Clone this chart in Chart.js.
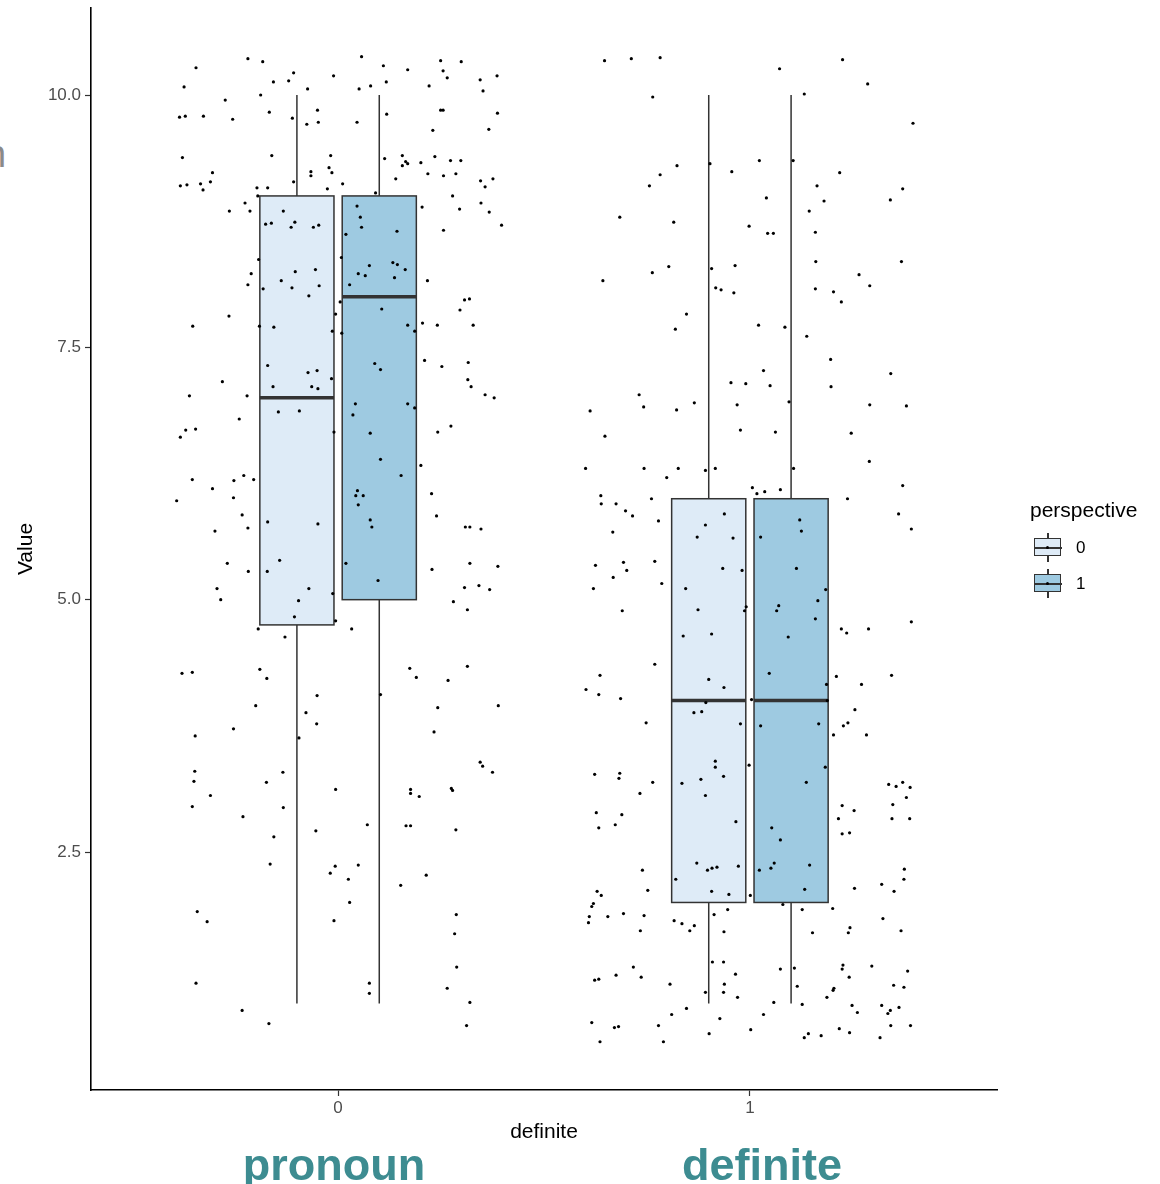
<!DOCTYPE html>
<html>
<head>
<meta charset="utf-8">
<script src="https://cdn.jsdelivr.net/npm/chart.js@4"></script>
<style>
  html, body { margin: 0; padding: 0; background: #fff; overflow: hidden; }
  body { width: 1160px; height: 1184px; position: relative; font-family: "Liberation Sans", Arial, sans-serif; }
  #plot { position: absolute; left: 0; top: 0; }
  .big { position: absolute; width: 320px; text-align: center; font-weight: bold; font-size: 45px; line-height: 45px; color: #3d8c91; }
  .legend-title { position: absolute; left: 1030px; top: 497px; font-size: 21px; line-height: 26px; color: #000; }
  .key { position: absolute; width: 28px; height: 29px; }
  .key .whisker { position: absolute; left: 13px; top: 0; width: 1.5px; height: 29px; background: #333; }
  .key .box { position: absolute; left: 0; top: 5px; width: 25px; height: 16px; border: 1.5px solid #333; }
  .key .med { position: absolute; left: 0; top: 14px; width: 28px; height: 1.5px; background: #333; }
  .key .dot { position: absolute; left: 12px; top: 13px; width: 3px; height: 3px; border-radius: 50%; background: #000; }
  .key-label { position: absolute; font-size: 17px; line-height: 20px; color: #000; }
  #frag { position: absolute; left: -15px; top: 135px; font-size: 38px; line-height: 38px; color: #8a8a8a; }
</style>
</head>
<body>
<div id="frag">n</div>
<canvas id="plot" width="1160" height="1184"></canvas>
<div class="legend-title">perspective</div>
<div id="legend-keys"></div>
<div class="big" style="left:174px; top:1142px;">pronoun</div>
<div class="big" style="left:602px; top:1142px;">definite</div>
<script>
const definiteLevels = [0, 1];
const perspectiveLevels = ['0', '1'];
const perspectiveFill = ['#deebf7', '#9ecae1'];
const yTicks = [2.5, 5.0, 7.5, 10.0];

// one entry per box: definite 0 / persp 0, definite 0 / persp 1, definite 1 / persp 0, definite 1 / persp 1
const boxDefinite = [0, 0, 1, 1];
const boxPerspective = [0, 1, 0, 1];
const boxMin = [1, 1, 1, 1];
const boxQ1 = [4.75, 5, 2, 2];
const boxMedian = [7, 8, 4, 4];
const boxQ3 = [9, 9, 6, 6];
const boxMax = [10, 10, 10, 10];

// jittered raw points: [offset from category, value]
const pronounJitter = [
  [-0.345,10.27],[-0.219,10.36],[-0.183,10.33],[0.057,10.38],[0.110,10.29],[0.169,10.25],[0.249,10.34],[0.299,10.33],[0.255,10.24],[0.265,10.17],
  [0.345,10.15],[0.386,10.19],[0.352,10.04],[0.221,10.09],[0.117,10.13],[0.079,10.09],[0.051,10.06],[-0.011,10.19],[-0.074,10.06],[-0.108,10.22],
  [-0.120,10.14],[-0.157,10.13],[-0.188,10.00],[-0.374,10.08],[-0.274,9.95],[-0.385,9.78],[-0.371,9.79],[-0.327,9.79],[-0.256,9.76],[-0.167,9.83],
  [-0.111,9.77],[-0.076,9.71],[-0.050,9.85],[-0.048,9.73],[0.046,9.73],[0.118,9.81],[0.249,9.85],[0.255,9.85],[0.230,9.65],[0.366,9.66],
  [0.387,9.82],[-0.378,9.38],[-0.161,9.40],[-0.018,9.40],[-0.022,9.28],[-0.015,9.23],[-0.066,9.24],[-0.066,9.20],[-0.108,9.14],[-0.197,9.08],
  [-0.171,9.08],[-0.195,9.00],[-0.026,9.07],[0.011,9.12],[-0.305,9.23],[-0.310,9.14],[-0.334,9.12],[-0.328,9.06],[-0.367,9.11],[-0.383,9.10],
  [0.113,9.37],[0.156,9.40],[0.156,9.30],[0.164,9.34],[0.169,9.32],[0.201,9.33],[0.235,9.39],[0.273,9.35],[0.298,9.35],[0.218,9.22],
  [0.256,9.20],[0.286,9.22],[0.140,9.17],[0.091,9.03],[0.278,9.00],[0.346,9.15],[0.357,9.09],[0.376,9.17],[0.347,8.93],[0.367,8.84],
  [0.397,8.71],[0.295,8.87],[0.204,8.89],[0.256,8.66],[-0.226,8.93],[-0.264,8.85],[-0.214,8.85],[-0.133,8.85],[-0.176,8.72],[-0.162,8.73],
  [-0.105,8.74],[-0.114,8.69],[-0.060,8.69],[-0.047,8.71],[0.046,8.90],[0.054,8.79],[0.057,8.69],[0.019,8.62],[0.143,8.65],[-0.193,8.37],
  [-0.211,8.23],[-0.219,8.12],[-0.182,8.08],[-0.138,8.16],[-0.112,8.09],[-0.104,8.25],[-0.055,8.27],[-0.046,8.11],[-0.071,8.01],[0.008,8.39],
  [0.076,8.31],[0.049,8.23],[0.066,8.21],[0.133,8.34],[0.144,8.32],[0.163,8.27],[0.137,8.19],[0.028,8.12],[0.217,8.16],[0.005,7.95],
  [-0.006,7.83],[0.106,7.88],[0.307,7.97],[0.319,7.98],[0.296,7.87],[-0.265,7.81],[-0.353,7.71],[-0.191,7.71],[-0.156,7.70],[-0.014,7.66],
  [0.009,7.64],[0.169,7.72],[0.205,7.74],[0.241,7.72],[0.328,7.72],[0.186,7.66],[-0.171,7.32],[-0.073,7.25],[-0.051,7.27],[-0.016,7.19],
  [0.089,7.34],[0.103,7.28],[0.210,7.37],[0.252,7.31],[0.316,7.35],[0.315,7.18],
  [-0.281,7.16],[-0.361,7.02],[-0.221,7.02],[-0.158,7.11],[-0.064,7.11],[-0.049,7.09],[0.323,7.11],[0.357,7.03],[0.379,7.00],[-0.145,6.86],
  [-0.094,6.87],[-0.240,6.79],[-0.370,6.68],[-0.346,6.69],[-0.383,6.61],[0.042,6.94],[0.169,6.94],[0.186,6.90],[0.036,6.83],[-0.010,6.66],
  [0.078,6.65],[0.274,6.72],[0.242,6.66],[0.103,6.39],[0.201,6.33],[0.153,6.23],[-0.354,6.19],[-0.305,6.10],[-0.253,6.18],[-0.229,6.23],
  [-0.205,6.19],[-0.392,5.98],[-0.254,6.01],[-0.233,5.84],[-0.299,5.68],[-0.219,5.71],[-0.171,5.77],[-0.049,5.75],[0.047,6.08],[0.043,6.03],
  [0.061,6.03],[0.049,5.94],[0.078,5.79],[0.082,5.72],[0.227,6.05],[0.239,5.83],[0.309,5.72],[0.320,5.72],[0.347,5.70],[-0.269,5.36],
  [-0.218,5.28],[-0.172,5.28],[-0.142,5.39],[0.019,5.36],[0.097,5.19],[0.228,5.30],[0.320,5.36],[0.388,5.33],[-0.294,5.11],[-0.285,5.00],
  [-0.071,5.11],[-0.013,5.06],[-0.096,4.99],[-0.106,4.83],[0.307,5.12],[0.342,5.14],[0.368,5.10],[0.280,4.98],[0.314,4.90],[-0.006,4.79],
  [-0.194,4.71],[-0.129,4.63],[0.033,4.71],[-0.379,4.27],[-0.354,4.28],[-0.190,4.31],[-0.173,4.22],[0.174,4.32],[0.190,4.23],[0.267,4.20],
  [0.314,4.34],[-0.051,4.05],[0.103,4.06],[-0.200,3.95],[0.242,3.93],[0.389,3.95],
  [-0.078,3.88],[-0.052,3.77],[-0.254,3.72],[-0.347,3.65],[-0.095,3.63],[0.233,3.69],[-0.348,3.30],[-0.350,3.20],[-0.134,3.29],[-0.174,3.19],
  [-0.310,3.06],[-0.354,2.95],[-0.133,2.94],[-0.231,2.85],[-0.006,3.12],[0.345,3.39],[0.351,3.35],[0.375,3.29],[0.176,3.12],[0.176,3.08],
  [0.197,3.05],[0.275,3.13],[0.278,3.11],[-0.156,2.65],[-0.054,2.71],[0.071,2.77],[0.165,2.76],[0.176,2.76],[0.286,2.72],[-0.165,2.38],
  [-0.007,2.36],[-0.019,2.29],[0.025,2.23],[0.049,2.37],[0.214,2.27],[0.152,2.17],[0.028,2.00],[-0.010,1.82],[-0.342,1.91],[-0.318,1.81],
  [0.287,1.88],[0.283,1.69],[0.288,1.36],[-0.345,1.20],[0.076,1.20],[0.076,1.10],[0.265,1.15],[0.320,1.01],[-0.233,0.93],[-0.168,0.80],
  [0.312,0.78]
];

const definiteJitter = [
  [-0.353,10.34],[-0.288,10.36],[-0.218,10.37],[0.072,10.26],[0.225,10.35],[0.286,10.11],[-0.236,9.98],[0.132,10.01],[0.396,9.72],[-0.097,9.32],
  [0.023,9.35],[0.105,9.35],[-0.177,9.30],[-0.044,9.24],[0.218,9.23],[-0.218,9.21],[-0.244,9.10],[0.163,9.10],[0.371,9.07],[0.040,8.98],
  [0.180,8.95],[0.341,8.96],[0.144,8.85],[-0.316,8.79],[-0.185,8.74],[-0.002,8.70],[0.043,8.63],[0.057,8.63],[0.159,8.64],[-0.197,8.30],
  [-0.093,8.28],[-0.036,8.31],[0.160,8.35],[0.368,8.35],[-0.237,8.24],[-0.357,8.16],[0.265,8.22],[0.291,8.11],[-0.083,8.09],[-0.070,8.07],
  [-0.039,8.04],[0.159,8.08],[0.203,8.05],[0.222,7.95],[-0.154,7.83],[-0.181,7.68],[0.021,7.72],[0.085,7.70],[0.138,7.61],[0.196,7.38],
  [0.033,7.27],[0.342,7.24],
  [-0.046,7.15],[-0.010,7.14],[0.049,7.12],[0.197,7.11],[-0.269,7.03],[-0.258,6.91],[-0.135,6.95],[-0.178,6.88],[-0.388,6.87],[-0.031,6.93],
  [0.095,6.96],[0.291,6.93],[0.380,6.92],[-0.352,6.62],[-0.023,6.68],[0.062,6.66],[0.246,6.65],[0.290,6.37],[-0.399,6.30],[-0.257,6.30],
  [-0.174,6.30],[-0.202,6.21],[-0.108,6.28],[-0.084,6.30],[0.106,6.30],[0.371,6.13],[0.006,6.11],[0.017,6.05],[0.036,6.07],[0.074,6.09],
  [-0.362,6.03],[-0.361,5.95],[-0.325,5.95],[-0.239,6.00],[-0.302,5.88],[-0.285,5.83],[0.237,6.00],[0.361,5.85],[0.392,5.70],[-0.333,5.67],
  [-0.222,5.78],[-0.062,5.85],[-0.108,5.74],[-0.128,5.62],[-0.041,5.61],[0.026,5.62],[0.121,5.79],[0.125,5.68],[-0.375,5.34],[-0.307,5.37],
  [-0.299,5.29],[-0.231,5.38],[-0.332,5.22],[-0.380,5.11],[-0.214,5.16],[-0.066,5.31],[-0.019,5.29],[0.113,5.31],[-0.156,5.11],[0.184,5.10],
  [0.165,4.99],[0.070,4.94],[0.065,4.89],[-0.009,4.93],[-0.013,4.89],[-0.126,4.90],[-0.310,4.89],[0.159,4.81],[0.392,4.78],[0.222,4.71],
  [0.235,4.67],[0.288,4.71],[-0.162,4.64],[-0.093,4.66],[0.093,4.63],[-0.231,4.36],[-0.364,4.25],[-0.398,4.11],[-0.367,4.06],[-0.314,4.02],
  [-0.100,4.21],[-0.063,4.13],[0.047,4.27],[0.210,4.24],[0.186,4.16],[0.271,4.16],[0.344,4.25],[-0.107,3.98],[0.004,4.01],[0.188,4.00],
  [0.255,3.91],
  [-0.136,3.88],[-0.117,3.89],[-0.252,3.78],[-0.023,3.77],[0.026,3.75],[0.167,3.77],[0.227,3.75],[0.238,3.78],[0.203,3.66],[0.283,3.66],
  [-0.084,3.40],[-0.084,3.34],[-0.002,3.36],[0.183,3.34],[-0.377,3.27],[-0.316,3.28],[-0.318,3.23],[-0.236,3.19],[-0.119,3.22],[-0.064,3.25],
  [-0.165,3.18],[0.137,3.19],[-0.267,3.08],[-0.108,3.06],[0.337,3.17],[0.355,3.15],[0.371,3.19],[0.389,3.14],[0.380,3.04],[0.347,2.97],
  [0.345,2.83],[0.388,2.83],[0.224,2.96],[0.253,2.91],[0.215,2.83],[0.224,2.68],[0.242,2.69],[-0.373,2.89],[-0.311,2.87],[-0.367,2.74],
  [-0.327,2.77],[-0.034,2.80],[0.053,2.74],[0.074,2.62],[-0.261,2.32],[-0.129,2.39],[-0.103,2.32],[-0.092,2.34],[-0.080,2.35],[-0.028,2.36],
  [0.023,2.32],[0.051,2.34],[0.059,2.39],[0.145,2.37],[0.375,2.33],[0.374,2.23],[0.320,2.18],[0.350,2.11],[0.254,2.14],[-0.180,2.23],
  [-0.248,2.12],[-0.371,2.11],[-0.361,2.07],[-0.093,2.11],[-0.051,2.08],[0.001,2.07],[0.133,2.13],[-0.380,1.99],[-0.384,1.96],[-0.390,1.86],
  [-0.392,1.80],[-0.345,1.86],[-0.307,1.89],[-0.257,1.87],[-0.266,1.72],[-0.184,1.82],[-0.165,1.79],[-0.135,1.77],[-0.146,1.72],[-0.087,1.88],
  [-0.054,1.93],[-0.063,1.71],[0.080,1.98],[0.127,1.93],[0.201,1.94],[0.152,1.70],[0.243,1.75],[0.239,1.70],[0.323,1.84],[0.367,1.72],
  [-0.283,1.36],[-0.377,1.23],[-0.367,1.24],[-0.325,1.28],[-0.264,1.26],[-0.194,1.19],[-0.091,1.41],[-0.064,1.41],[-0.035,1.29],[-0.062,1.19],
  [-0.108,1.11],[-0.064,1.11],[-0.030,1.06],[0.074,1.34],[0.108,1.35],[0.115,1.17],[0.058,1.01],[0.127,0.99],[0.187,1.06],[0.202,1.13],
  [0.204,1.15],[0.226,1.38],[0.224,1.34],[0.241,1.26],[0.296,1.37],[0.383,1.32],[0.349,1.18],[0.374,1.16],[0.248,0.98],[0.261,0.91],
  [0.320,0.98],[0.341,0.93],[0.335,0.90],[0.362,0.96],[-0.154,0.95],[-0.190,0.89],[-0.073,0.85],[0.033,0.89],[-0.384,0.81],[-0.329,0.76],
  [-0.319,0.77],[-0.222,0.78],[0.002,0.74],[-0.099,0.70],[-0.364,0.62],[-0.210,0.62],[0.132,0.66],[0.142,0.70],[0.173,0.68],[0.217,0.75],
  [0.242,0.71],[0.316,0.66],[0.342,0.78],[0.390,0.78]
];

const FONT = '"Liberation Sans", Arial, sans-serif';
Chart.defaults.font.family = FONT;

const jitterPoints = pronounJitter.map(p => ({ x: definiteLevels[0] + p[0], y: p[1] }))
  .concat(definiteJitter.map(p => ({ x: definiteLevels[1] + p[0], y: p[1] })));

// keep the plot panel exactly where the layout padding puts it
function fixScaleSize(size) {
  return s => {
    if (s.isHorizontal()) s.height = size; else s.width = size;
    s.paddingTop = 0; s.paddingBottom = 0; s.paddingLeft = 0; s.paddingRight = 0;
  };
}

// boxes drawn under the points, placed with the chart's own scales
const boxPlugin = {
  id: 'boxes',
  beforeDatasetsDraw(chart) {
    const { ctx, scales: { x, y } } = chart;
    ctx.save();
    for (let i = 0; i < boxQ1.length; i++) {
      const center = boxDefinite[i] + (boxPerspective[i] === 0 ? -0.1 : 0.1);
      const cx = x.getPixelForValue(center);
      const left = x.getPixelForValue(center - 0.09);
      const right = x.getPixelForValue(center + 0.09);
      const yMin = y.getPixelForValue(boxMin[i]);
      const yQ1 = y.getPixelForValue(boxQ1[i]);
      const yMed = y.getPixelForValue(boxMedian[i]);
      const yQ3 = y.getPixelForValue(boxQ3[i]);
      const yMax = y.getPixelForValue(boxMax[i]);

      ctx.strokeStyle = '#333333';
      ctx.lineWidth = 1.5;
      ctx.beginPath();
      ctx.moveTo(cx, yMax); ctx.lineTo(cx, yQ3);
      ctx.moveTo(cx, yQ1); ctx.lineTo(cx, yMin);
      ctx.stroke();

      ctx.fillStyle = perspectiveFill[boxPerspective[i]];
      ctx.fillRect(left, yQ3, right - left, yQ1 - yQ3);
      ctx.strokeRect(left, yQ3, right - left, yQ1 - yQ3);

      ctx.lineWidth = 3.5;
      ctx.beginPath();
      ctx.moveTo(left, yMed); ctx.lineTo(right, yMed);
      ctx.stroke();
    }
    ctx.restore();
  }
};

new Chart(document.getElementById('plot').getContext('2d'), {
  type: 'scatter',
  data: {
    datasets: [{
      data: jitterPoints,
      pointRadius: 1.6,
      pointBackgroundColor: '#000',
      pointBorderWidth: 0
    }]
  },
  options: {
    responsive: false,
    animation: false,
    layout: { padding: { left: 0, top: 8, right: 163, bottom: 0 } },
    plugins: { legend: { display: false }, tooltip: { enabled: false } },
    scales: {
      x: {
        type: 'linear',
        min: -0.6,
        max: 1.6,
        afterFit: fixScaleSize(94),
        afterBuildTicks: s => { s.ticks = definiteLevels.map(v => ({ value: v })); },
        ticks: { callback: v => String(v), color: '#4d4d4d', font: { size: 17 }, padding: 2, autoSkip: false, maxRotation: 0 },
        grid: { drawOnChartArea: false, tickLength: 6, tickColor: '#333', tickWidth: 1.2 },
        border: { color: '#000', width: 1.6 },
        title: { display: true, text: 'definite', color: '#000', font: { size: 21 }, padding: { top: 0, bottom: 39 } }
      },
      y: {
        type: 'linear',
        min: 0.142,
        max: 10.862,
        afterFit: fixScaleSize(91),
        afterBuildTicks: s => { s.ticks = yTicks.map(v => ({ value: v })); },
        ticks: { callback: v => v.toFixed(1), color: '#4d4d4d', font: { size: 17 }, padding: 4 },
        grid: { drawOnChartArea: false, tickLength: 6, tickColor: '#333', tickWidth: 1.2 },
        border: { color: '#000', width: 1.6 },
        title: { display: true, text: 'Value', color: '#000', font: { size: 21 }, padding: { top: 14, bottom: 0 } }
      }
    }
  },
  plugins: [boxPlugin]
});

// legend keys
const keyHolder = document.getElementById('legend-keys');
perspectiveLevels.forEach((lvl, i) => {
  const top = 533 + i * 36;
  const key = document.createElement('div');
  key.className = 'key';
  key.style.left = '1034px';
  key.style.top = top + 'px';
  key.innerHTML = '<div class="whisker"></div><div class="box" style="background:' + perspectiveFill[i] +
    '"></div><div class="med"></div><div class="dot"></div>';
  keyHolder.appendChild(key);
  const label = document.createElement('div');
  label.className = 'key-label';
  label.style.left = '1076px';
  label.style.top = (top + 5) + 'px';
  label.textContent = lvl;
  keyHolder.appendChild(label);
});
</script>
</body>
</html>
